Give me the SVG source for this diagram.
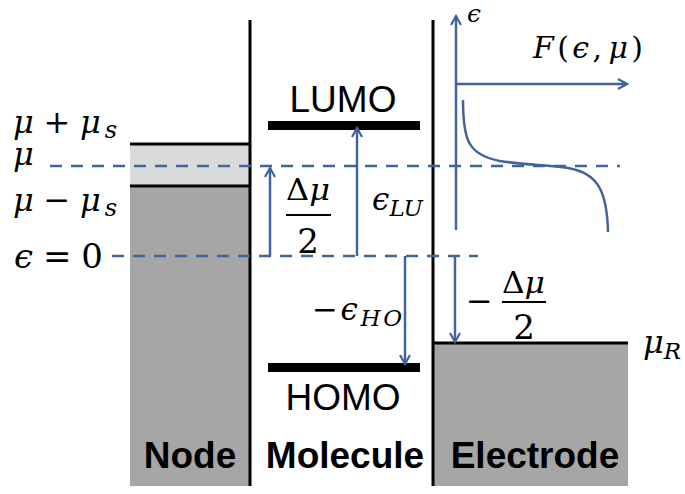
<svg xmlns="http://www.w3.org/2000/svg" width="685" height="494" viewBox="0 0 685 494">
<style>
.blk{stroke:#000;stroke-width:3;fill:none}
.dash{stroke:#41659a;stroke-width:2.5;stroke-dasharray:12 9;fill:none}
.arr{stroke:#41659a;stroke-width:2.5;fill:none;marker-end:url(#ah)}
.m{font-family:"DejaVu Serif","Liberation Serif",serif;font-style:italic;fill:#000}
.u{font-style:normal}
.lbl{font-family:"Liberation Sans",Arial,sans-serif;fill:#000}
.b{font-weight:bold}
</style>
<defs>
<marker id="ah" viewBox="0 0 12 12" refX="10" refY="6" markerWidth="12" markerHeight="12" markerUnits="userSpaceOnUse" orient="auto">
<path d="M1,1 L10,6 L1,11" fill="none" stroke="#41659a" stroke-width="2.2"/>
</marker>
</defs>
<g id="node">
<rect x="130" y="144" width="120" height="42" fill="#d9d9d9"/>
<rect x="130" y="186" width="120" height="300" fill="#a6a6a6"/>
<line class="blk" x1="130" y1="144" x2="250" y2="144"/>
<line class="blk" x1="130" y1="186" x2="250" y2="186"/>
<text class="lbl b" x="190" y="468" font-size="37" text-anchor="middle">Node</text>
</g>
<g id="electrode">
<rect x="433" y="343" width="195" height="143" fill="#a6a6a6"/>
<line class="blk" x1="433" y1="343" x2="628" y2="343"/>
<text class="lbl b" x="535" y="468" font-size="37" text-anchor="middle">Electrode</text>
</g>
<g id="molecule">
<line class="blk" x1="250" y1="20" x2="250" y2="486"/>
<line class="blk" x1="433" y1="20" x2="433" y2="486"/>
<rect x="268" y="121" width="152" height="9" fill="#000"/>
<rect x="268" y="363" width="152" height="9" fill="#000"/>
<text class="lbl" x="343" y="112" font-size="37" text-anchor="middle">LUMO</text>
<text class="lbl" x="343" y="410" font-size="37" text-anchor="middle">HOMO</text>
<text class="lbl b" x="345" y="468" font-size="37" text-anchor="middle">Molecule</text>
</g>
<g id="connectors">
<line class="dash" x1="50" y1="166" x2="620" y2="166"/>
<line class="dash" x1="112" y1="256" x2="478" y2="256"/>
<line class="arr" x1="270" y1="256" x2="270" y2="168"/>
<line class="arr" x1="357" y1="256" x2="357" y2="128"/>
<line class="arr" x1="405" y1="256" x2="405" y2="364"/>
<line class="arr" x1="455" y1="256" x2="455" y2="342"/>
<line class="arr" x1="456" y1="230" x2="456" y2="16"/>
<line class="arr" x1="456" y1="84" x2="627" y2="84"/>
<path d="M463,100 C463,140 468,155 500,161 C525,165 548,165 568,168 C596,173 607,188 608,232" stroke="#41659a" stroke-width="2.5" fill="none"/>
</g>
<g id="labels">
<text class="m" x="13" y="133" font-size="32" textLength="104" lengthAdjust="spacing">μ<tspan class="u" dx="6">+</tspan><tspan dx="6">μ</tspan><tspan font-size="24" dy="5">s</tspan></text>
<text class="m" x="13" y="165" font-size="32">μ</text>
<text class="m" x="13" y="211" font-size="32" textLength="104" lengthAdjust="spacing">μ<tspan class="u" dx="6">−</tspan><tspan dx="6">μ</tspan><tspan font-size="24" dy="5">s</tspan></text>
<text class="m" x="14" y="268" font-size="34" textLength="89" lengthAdjust="spacing">ϵ<tspan class="u" dx="6">=</tspan><tspan class="u" dx="6">0</tspan></text>
<text class="m" x="286" y="200" font-size="30" textLength="44" lengthAdjust="spacingAndGlyphs"><tspan class="u">Δ</tspan>μ</text>
<line x1="286" y1="215" x2="331" y2="215" stroke="#000" stroke-width="2"/>
<text class="m u" x="308" y="253" font-size="34" text-anchor="middle">2</text>
<text class="m" x="372" y="210" font-size="31" textLength="51" lengthAdjust="spacing">ϵ<tspan font-size="23" dy="6">LU</tspan></text>
<text class="m" x="312" y="320" font-size="31" textLength="90" lengthAdjust="spacing"><tspan class="u">−</tspan>ϵ<tspan font-size="23" dy="6">HO</tspan></text>
<text class="m u" x="466" y="312" font-size="32">−</text>
<text class="m" x="502" y="293" font-size="30" textLength="43" lengthAdjust="spacingAndGlyphs"><tspan class="u">Δ</tspan>μ</text>
<line x1="502" y1="302" x2="546" y2="302" stroke="#000" stroke-width="2"/>
<text class="m u" x="524" y="339" font-size="34" text-anchor="middle">2</text>
<text class="m" x="643" y="353" font-size="32">μ<tspan font-size="23" dy="6">R</tspan></text>
<text class="m" x="467" y="22" font-size="25">ϵ</text>
<text class="m" x="533" y="58" font-size="30" textLength="110" lengthAdjust="spacing">F<tspan class="u">(</tspan>ϵ<tspan class="u">,</tspan><tspan dx="3">μ</tspan><tspan class="u">)</tspan></text>
</g>
</svg>
